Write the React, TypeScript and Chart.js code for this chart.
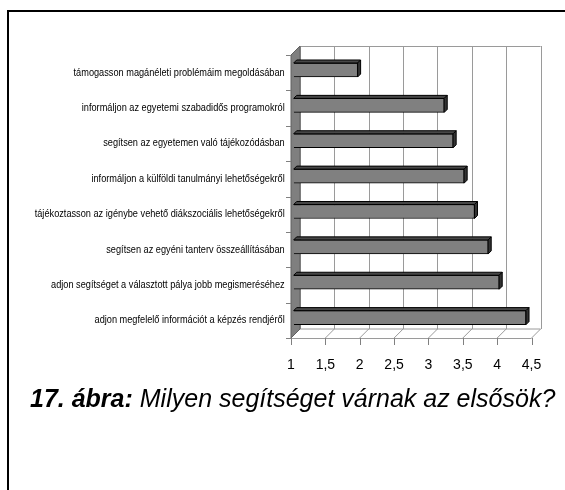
import React, { useEffect, useRef } from "react";
import { Chart, CategoryScale, registerables } from "chart.js";

const categories = [
  "támogasson magánéleti problémáim megoldásában",
  "informáljon az egyetemi szabadidős programokról",
  "segítsen az egyetemen való tájékozódásban",
  "informáljon a külföldi tanulmányi lehetőségekről",
  "tájékoztasson az igénybe vehető diákszociális lehetőségekről",
  "segítsen az egyéni tanterv összeállításában",
  "adjon segítséget a választott pálya jobb megismeréséhez",
  "adjon megfelelő információt a képzés rendjéről",
];
const values = [1.93, 3.19, 3.32, 3.48, 3.63, 3.83, 3.99, 4.38];
const xTicks = [1, 1.5, 2, 2.5, 3, 3.5, 4, 4.5];
const xMin = 1;
const xMax = 4.5;

const DEPTH = 9;
const BAR_AT = 0.3;
const FO = DEPTH * BAR_AT;
const BO = DEPTH * (1 - BAR_AT);
const BAR_D = 3;

const LABEL_FONT = "'Liberation Sans', Arial, sans-serif";
const LABEL_SIZE = 11;
const LABEL_MAX_W = 250;
const LABEL_PAD = 9;

// Category axis whose labels are drawn horizontally condensed (Arial Narrow look)
class NarrowCategoryScale extends (CategoryScale as any) {
  static id = "narrowCategory";
  static defaults = (CategoryScale as any).defaults;
  _computeLabelArea() {
    return undefined;
  }
  drawLabels(chartArea: any) {
    const ctx: CanvasRenderingContext2D = (this as any).ctx;
    ctx.save();
    ctx.font = `${LABEL_SIZE}px ${LABEL_FONT}`;
    let maxW = 0;
    categories.forEach((c) => {
      maxW = Math.max(maxW, ctx.measureText(c).width);
    });
    const k = Math.min(1, LABEL_MAX_W / maxW);
    const anchor = (this as any).right - LABEL_PAD;
    ctx.translate(anchor, 0);
    ctx.scale(k, 1);
    ctx.translate(-anchor, 0);
    super.drawLabels(chartArea);
    ctx.restore();
  }
}

Chart.register(...registerables, NarrowCategoryScale as any);

function poly(ctx: CanvasRenderingContext2D, pts: number[]) {
  ctx.beginPath();
  ctx.moveTo(pts[0], pts[1]);
  for (let i = 2; i < pts.length; i += 2) ctx.lineTo(pts[i], pts[i + 1]);
  ctx.closePath();
}
function line(ctx: CanvasRenderingContext2D, x1: number, y1: number, x2: number, y2: number) {
  ctx.beginPath();
  ctx.moveTo(x1, y1);
  ctx.lineTo(x2, y2);
  ctx.stroke();
}

const threeD = {
  id: "threeD",
  beforeDatasetsDraw(chart: any) {
    const { ctx, chartArea: a, scales } = chart;
    const xs = scales.x;
    const fL = a.left - FO, fR = a.right - FO, fT = a.top + FO, fB = a.bottom + FO;
    const bL = a.left + BO, bR = a.right + BO, bT = a.top - BO, bB = a.bottom - BO;
    ctx.save();
    ctx.lineWidth = 1;
    // floor
    ctx.fillStyle = "#ffffff";
    poly(ctx, [fL, fB, fR, fB, bR, bB, bL, bB]);
    ctx.fill();
    ctx.strokeStyle = "#9a9a9a";
    xs.ticks.forEach((t: any) => {
      const p = xs.getPixelForValue(t.value);
      line(ctx, p - FO, fB, p + BO, bB);
    });
    line(ctx, bL, bB, bR, bB);
    line(ctx, fL, fB + 0.5, fR, fB + 0.5);
    // back wall grid
    xs.ticks.forEach((t: any) => {
      const p = Math.round(xs.getPixelForValue(t.value) + BO) + 0.5;
      line(ctx, p, bT, p, bB);
    });
    line(ctx, bL, Math.round(bT) + 0.5, bR, Math.round(bT) + 0.5);
    // left wall
    ctx.fillStyle = "#7f7f7f";
    poly(ctx, [fL, fT, bL, bT, bL, bB, fL, fB]);
    ctx.fill();
    ctx.strokeStyle = "#606060";
    ctx.stroke();
    // category tick marks (front plane boundaries)
    ctx.strokeStyle = "#808080";
    const n = categories.length;
    for (let i = 0; i <= n; i++) {
      const yy = fT + ((fB - fT) * i) / n;
      line(ctx, fL - 5, Math.round(yy) + 0.5, fL, Math.round(yy) + 0.5);
    }
    // value tick marks (front plane)
    xs.ticks.forEach((t: any) => {
      const p = Math.round(xs.getPixelForValue(t.value) - FO) + 0.5;
      line(ctx, p, fB, p, fB + 7);
    });
    ctx.restore();
  },
  afterDatasetsDraw(chart: any) {
    const { ctx } = chart;
    const meta = chart.getDatasetMeta(0);
    ctx.save();
    ctx.lineWidth = 1;
    ctx.strokeStyle = "#000000";
    meta.data.forEach((el: any) => {
      const { x, y, base, height } = el.getProps(["x", "y", "base", "height"], true);
      const top = y - height / 2;
      const bot = y + height / 2;
      ctx.fillStyle = "#474747";
      poly(ctx, [base, top, x, top, x + BAR_D, top - BAR_D, base + BAR_D, top - BAR_D]);
      ctx.fill();
      ctx.stroke();
      ctx.fillStyle = "#333333";
      poly(ctx, [x, top, x + BAR_D, top - BAR_D, x + BAR_D, bot - BAR_D, x, bot]);
      ctx.fill();
      ctx.stroke();
    });
    ctx.restore();
  },
};

const W = 565;
const H = 490;
const AREA_LEFT = 293.7;
const AREA_RIGHT = 543.7;
const AREA_TOP = 52.3;
const AREA_BOTTOM = 335.3;
const X_AXIS_H = 40;

export default function App() {
  const ref = useRef<HTMLCanvasElement | null>(null);
  useEffect(() => {
    if (!ref.current) return;
    const chart = new Chart(ref.current, {
      type: "bar",
      data: {
        labels: categories,
        datasets: [
          {
            data: values,
            backgroundColor: "#808080",
            borderColor: "#000000",
            borderWidth: 1,
            barThickness: 14,
            base: xMin,
          } as any,
        ],
      },
      plugins: [threeD],
      options: {
        indexAxis: "y",
        animation: false,
        responsive: false,
        events: [],
        layout: {
          padding: {
            left: 0,
            top: AREA_TOP,
            right: W - AREA_RIGHT,
            bottom: H - AREA_BOTTOM - X_AXIS_H,
          },
        },
        plugins: {
          legend: { display: false },
          tooltip: { enabled: false },
          title: { display: false },
        },
        scales: {
          x: {
            type: "linear",
            min: xMin,
            max: xMax,
            afterBuildTicks: (s: any) => {
              s.ticks = xTicks.map((v) => ({ value: v }));
            },
            afterFit: (s: any) => {
              s.height = X_AXIS_H;
            },
            grid: { display: false, drawTicks: false },
            border: { display: false },
            ticks: {
              padding: 21,
              labelOffset: -FO,
              color: "#000000",
              font: { family: "'Liberation Sans', Arial, sans-serif", size: 14 },
              callback: (v: any) => String(v).replace(".", ","),
              maxRotation: 0,
              autoSkip: false,
            },
          },
          y: {
            type: "narrowCategory",
            offset: true,
            afterFit: (s: any) => {
              s.width = AREA_LEFT;
            },
            grid: { display: false, drawTicks: false, offset: true },
            border: { display: false },
            ticks: {
              padding: LABEL_PAD,
              labelOffset: FO,
              color: "#000000",
              autoSkip: false,
              font: { family: LABEL_FONT, size: LABEL_SIZE },
            },
          },
        },
      } as any,
    });
    return () => chart.destroy();
  }, []);

  return (
    <div
      style={{
        position: "fixed",
        left: 0,
        top: 0,
        width: W,
        height: H,
        overflow: "hidden",
        background: "#ffffff",
      }}
    >
      <div
        style={{
          position: "absolute",
          left: 7,
          top: 10,
          width: W - 7,
          height: H - 10,
          borderLeft: "2px solid #000",
          borderTop: "2px solid #000",
          boxSizing: "border-box",
        }}
      />
      <canvas ref={ref} width={W} height={H} style={{ position: "absolute", left: 0, top: 0 }} />
      <div
        style={{
          position: "absolute",
          left: 30,
          top: 384,
          whiteSpace: "nowrap",
          fontFamily: "'Liberation Sans', Arial, sans-serif",
          fontSize: 25,
          fontStyle: "italic",
          color: "#000",
          lineHeight: "normal",
        }}
      >
        <b>17. ábra:</b> Milyen segítséget várnak az elsősök?
      </div>
    </div>
  );
}
